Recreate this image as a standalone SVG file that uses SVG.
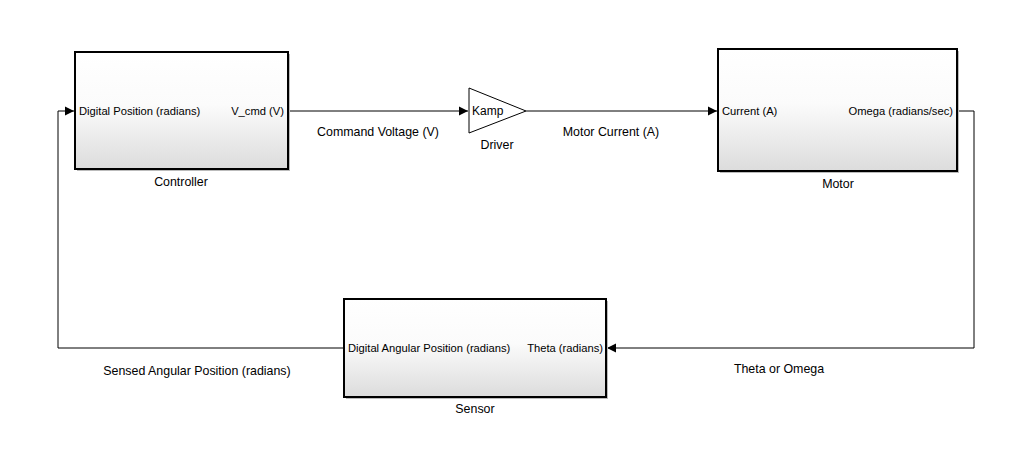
<svg xmlns="http://www.w3.org/2000/svg" width="1021" height="462" viewBox="0 0 1021 462">
<style>
text{font-family:"Liberation Sans",Arial,sans-serif;font-size:12.4px;fill:#000}
.pt{font-size:11.2px}
.blk{stroke:#000;stroke-width:2;fill:url(#g)}
.sh{fill:#bbb}
.ln{stroke:#000;stroke-width:1;fill:none}
.mid{text-anchor:middle}
.end{text-anchor:end}
</style>
<defs>
<linearGradient id="g" x1="0" y1="0" x2="0" y2="1">
<stop offset="0" stop-color="#ffffff"/>
<stop offset="0.45" stop-color="#fbfbfb"/>
<stop offset="1" stop-color="#dcdcdc"/>
</linearGradient>
<marker id="ar" markerWidth="10" markerHeight="10" refX="9" refY="5" orient="auto" markerUnits="userSpaceOnUse">
<path d="M0,0.5 L9,5 L0,9.5 Z" fill="#000"/>
</marker>
</defs>
<rect width="1021" height="462" fill="#fff"/>
<g id="connectors">
<path class="ln" d="M288,111 H468" marker-end="url(#ar)"/>
<path class="ln" d="M526,111 H717" marker-end="url(#ar)"/>
<path class="ln" d="M957,111 H974 V348 H607" marker-end="url(#ar)"/>
<path class="ln" d="M344,348 H58 V111 H74" marker-end="url(#ar)"/>
<text class="mid" x="378" y="136">Command Voltage (V)</text>
<text class="mid" x="611" y="136">Motor Current (A)</text>
<text class="mid" x="779" y="373">Theta or Omega</text>
<text class="mid" x="197" y="375">Sensed Angular Position (radians)</text>
</g>
<g id="controller">
<rect class="sh" x="77" y="54" width="213" height="117"/>
<rect class="blk" x="75" y="52" width="213" height="117"/>
<text class="pt" x="79" y="115">Digital Position (radians)</text>
<text class="pt end" x="284" y="115">V_cmd (V)</text>
<text class="mid" x="181" y="186">Controller</text>
</g>
<g id="driver">
<path d="M469,88 L526,111 L469,133 Z" fill="#fff" stroke="#000" stroke-width="1"/>
<text x="472" y="115" style="font-size:12px">Kamp</text>
<text class="mid" x="497" y="149">Driver</text>
</g>
<g id="motor">
<rect class="sh" x="720" y="51" width="239" height="122"/>
<rect class="blk" x="718" y="49" width="239" height="122"/>
<text class="pt" x="722" y="115">Current (A)</text>
<text class="pt end" x="953" y="115">Omega (radians/sec)</text>
<text class="mid" x="838" y="188">Motor</text>
</g>
<g id="sensor">
<rect class="sh" x="346" y="301" width="262" height="98"/>
<rect class="blk" x="344" y="299" width="262" height="98"/>
<text class="pt" x="348" y="352">Digital Angular Position (radians)</text>
<text class="pt end" x="603" y="352">Theta (radians)</text>
<text class="mid" x="475" y="413">Sensor</text>
</g>
</svg>
